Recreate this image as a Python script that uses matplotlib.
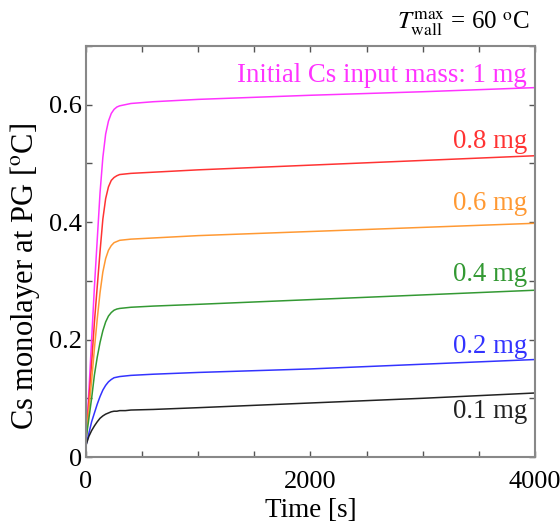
import matplotlib
matplotlib.use("Agg")
import matplotlib.pyplot as plt
from matplotlib.ticker import MultipleLocator

plt.rcParams['font.family'] = ['Liberation Serif', 'DejaVu Serif']
plt.rcParams['mathtext.fontset'] = 'stix'

time_s = [0, 25, 50, 75, 100, 125, 150, 175, 200, 225, 250, 275, 300, 350, 400, 600, 1000, 2000, 3000, 4000]
mass_1mg = [0.03, 0.11, 0.20, 0.29, 0.37, 0.45, 0.51, 0.55, 0.572, 0.585, 0.592, 0.596, 0.598, 0.600, 0.602, 0.605, 0.609, 0.616, 0.622, 0.629]
mass_08mg = [0.03, 0.095, 0.16, 0.23, 0.29, 0.35, 0.405, 0.44, 0.460, 0.471, 0.476, 0.479, 0.481, 0.482, 0.483, 0.485, 0.489, 0.497, 0.505, 0.513]
mass_06mg = [0.03, 0.08, 0.13, 0.185, 0.235, 0.28, 0.315, 0.338, 0.352, 0.360, 0.365, 0.367, 0.369, 0.370, 0.371, 0.373, 0.377, 0.384, 0.391, 0.398]
mass_04mg = [0.03, 0.065, 0.10, 0.14, 0.17, 0.195, 0.215, 0.23, 0.240, 0.246, 0.250, 0.252, 0.253, 0.254, 0.255, 0.257, 0.260, 0.268, 0.276, 0.284]
mass_02mg = [0.02, 0.04, 0.06, 0.075, 0.09, 0.103, 0.114, 0.122, 0.128, 0.132, 0.135, 0.136, 0.137, 0.138, 0.139, 0.141, 0.144, 0.150, 0.158, 0.166]
mass_01mg = [0.02, 0.035, 0.045, 0.053, 0.06, 0.066, 0.070, 0.073, 0.075, 0.077, 0.078, 0.078, 0.079, 0.079, 0.080, 0.081, 0.084, 0.092, 0.100, 0.109]

series = [mass_1mg, mass_08mg, mass_06mg, mass_04mg, mass_02mg, mass_01mg]
labels = ["Initial Cs input mass: 1 mg", "0.8 mg", "0.6 mg", "0.4 mg", "0.2 mg", "0.1 mg"]
label_y = [0.65, 0.538, 0.431, 0.311, 0.188, 0.077]
colors = ['#ff33ff', '#ff3333', '#ff9933', '#339933', '#3333ff', '#222222']

fig = plt.figure(figsize=(5.6, 5.22), dpi=100)
ax = fig.add_axes([0.1536, 0.1245, 0.8014, 0.7875])

for ys, c in zip(series, colors):
    ax.plot(time_s, ys, color=c, lw=1.1)

for lab, ly, c in zip(labels, label_y, colors):
    ax.text(3930, ly, lab, color=c, fontsize=19.3, ha='right', va='center')

ax.set_xlim(0, 4000)
ax.set_ylim(0, 0.7)
ax.xaxis.set_minor_locator(MultipleLocator(500))
ax.yaxis.set_minor_locator(MultipleLocator(0.1))
ax.set_xticks([0, 2000, 4000])
ax.set_xticklabels(['0', '2000', '4000'])
ax.set_yticks([0, 0.2, 0.4, 0.6])
ax.set_yticklabels(['0', '0.2', '0.4', '0.6'])
ax.tick_params(which='both', direction='in', top=True, right=True, length=4,
               width=1, color='#555555', labelsize=19)
ax.tick_params(axis='x', which='both', pad=10)
ax.tick_params(axis='y', which='both', pad=3)
for s in ax.spines.values():
    s.set_color('#888888')
    s.set_linewidth(1.5)

ax.set_xlabel('Time [s]', fontsize=19.5, labelpad=4)
ax.set_ylabel(r'Cs monolayer at PG [$^{\rm o}$C]', fontsize=22, va='center')
ax.yaxis.set_label_coords(-0.136, 0.44)

fig.text(0.947, 0.955, r'$T_{\rm wall}^{\rm max}$ = 60 $^{\rm o}$C', fontsize=18,
         ha='right', va='center')

fig.savefig('out.png', dpi=100)
